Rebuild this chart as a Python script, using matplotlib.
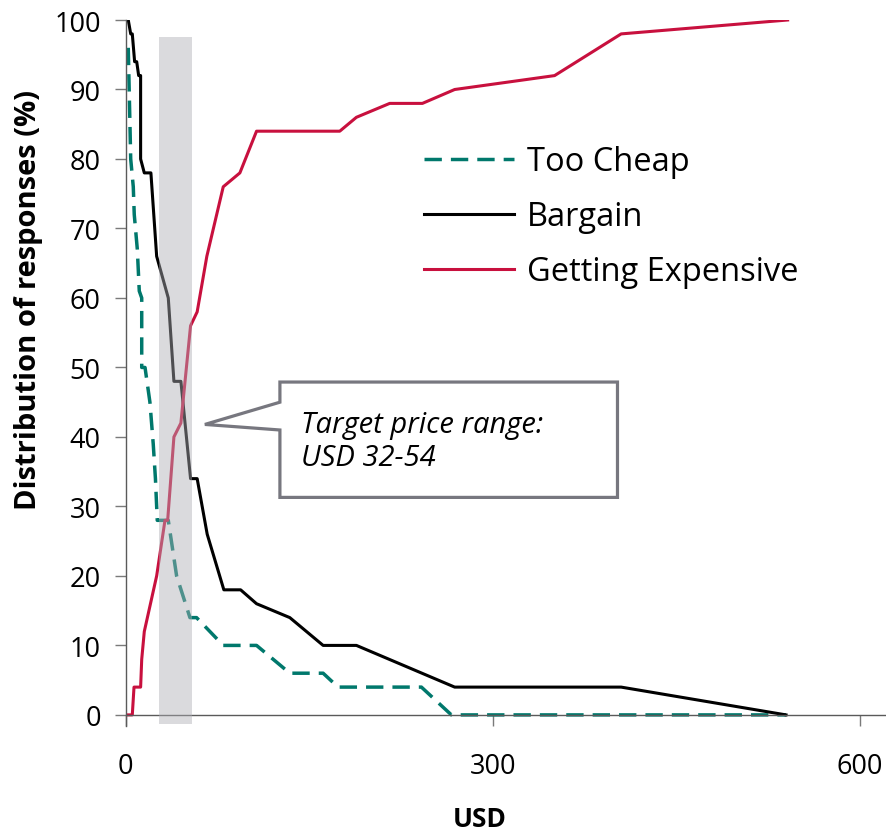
import matplotlib
matplotlib.use("Agg")
import matplotlib.pyplot as plt
from matplotlib.patches import Polygon

plt.rcParams['font.family'] = ['Open Sans', 'DejaVu Sans']

# price points (USD) and cumulative share of responses (%)
cheap_usd = [2.1, 4.1, 6.2, 7.0, 9.0, 9.5, 11.1, 13.1, 13.1, 15.8, 19.8, 22.5, 24.3, 25.8,
             34.8, 41.6, 52.5, 57.9, 79.7, 106.9, 134.1, 161.3, 173.5, 241.6, 266.1, 539.5]
cheap_pct = [96, 80, 76, 72, 68, 67, 61, 60, 50, 50, 45, 39, 34, 28,
             28, 20, 14, 14, 10, 10, 6, 6, 4, 4, 0, 0]

bargain_usd = [2.1, 4.1, 5.4, 7.3, 9.0, 10.6, 12.2, 12.2, 15.2, 20.6, 25.3, 34.8, 39.4, 45.1,
               53.0, 58.4, 66.6, 80.2, 93.9, 106.9, 134.1, 161.3, 188.5, 268.8, 404.8, 539.5]
bargain_pct = [100, 98, 98, 94, 94, 92, 92, 80, 78, 78, 66, 60, 48, 48,
               34, 34, 26, 18, 18, 16, 14, 10, 10, 4, 4, 0]

expensive_usd = [0.8, 5.4, 6.8, 12.2, 13.1, 15.2, 25.3, 32.1, 34.3, 39.4, 45.1, 53.0, 58.4,
                 66.3, 79.7, 93.3, 106.9, 174.9, 188.5, 215.7, 242.4, 268.8, 350.4, 404.8, 540.8]
expensive_pct = [0, 0, 4, 4, 8, 12, 20, 28, 28, 40, 42, 56, 58,
                 66, 76, 78, 84, 84, 86, 88, 88, 90, 92, 98, 100]

target_range = (27, 54)

TEAL = '#00786c'
RED = '#c8103e'

fig = plt.figure(figsize=(8.87, 8.37), dpi=100)
ax = fig.add_axes([0.1417, 0.1314, 0.8583, 0.8435])

ax.plot(cheap_usd, cheap_pct, color=TEAL, lw=2.5, ls=(0, (5, 2.6)), label='Too Cheap')
ax.plot(bargain_usd, bargain_pct, color='black', lw=2.2, label='Bargain')
ax.plot(expensive_usd, expensive_pct, color=RED, lw=2.2, label='Getting Expensive')

# target price band, drawn over the lines
ax.fill_between(target_range, -1.3, 97.5, color='#aeaeb4', alpha=0.45, lw=0, zorder=5)

# callout box
box = [(126, 47.9), (401.8, 47.9), (401.8, 31.3), (126, 31.3), (126, 41.0),
       (64.7, 41.8), (126, 45.0)]
ax.add_patch(Polygon(box, closed=True, facecolor='white', edgecolor='#77777f',
                     lw=2.3, zorder=6, clip_on=False))
ax.text(143, 39.4, 'Target price range:\nUSD 32-54', fontsize=21, style='italic',
        va='center', ha='left', linespacing=1.2, zorder=7)

ax.set_xlim(0, 622)
ax.set_ylim(-1.6, 100)
ax.set_xticks([0, 300, 600])
ax.set_yticks(range(0, 101, 10))
ax.spines['top'].set_visible(False)
ax.spines['right'].set_visible(False)
ax.spines['bottom'].set_position(('data', 0))
for s in ('left', 'bottom'):
    ax.spines[s].set_color('#5a5a5a')
    ax.spines[s].set_linewidth(1)
ax.spines['left'].set_bounds(-1.6, 100)
ax.tick_params(axis='both', direction='out', length=8, width=1, color='#7a7a7a',
               labelsize=19.5)
ax.tick_params(axis='y', pad=10)
ax.tick_params(axis='x', pad=19)

leg = ax.legend(loc='upper left', bbox_to_anchor=(424 / 887, 1 - 146 / 837),
                bbox_transform=fig.transFigure, frameon=False, fontsize=23.5,
                handlelength=2.75, handletextpad=0.4, labelspacing=0.68,
                borderpad=0, borderaxespad=0)

fig.text(28.5 / 887, 1 - 300 / 837, 'Distribution of responses (%)', rotation=90,
         fontsize=21, fontweight='bold', ha='center', va='center')
fig.text(480 / 887, 1 - 820 / 837, 'USD', fontsize=19, fontweight='bold',
         ha='center', va='center')

fig.savefig('out.png', dpi=100)
